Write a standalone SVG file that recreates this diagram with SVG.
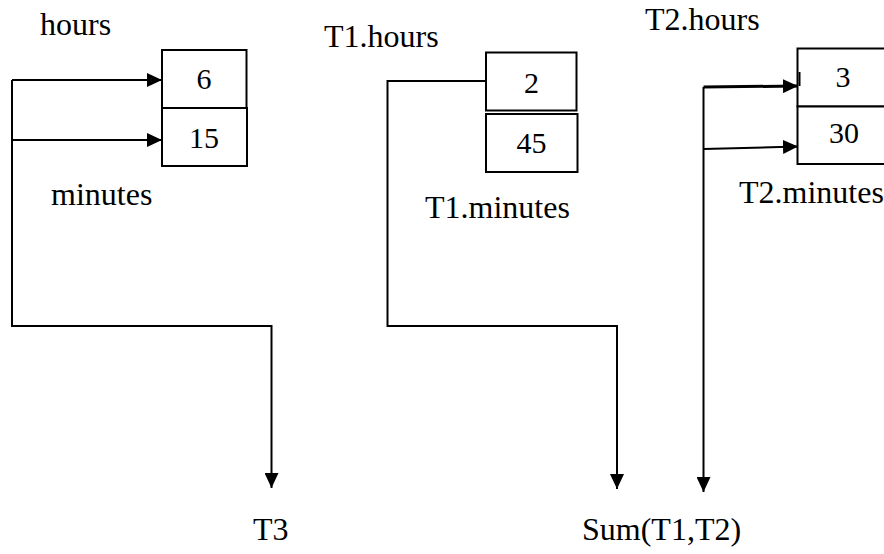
<svg xmlns="http://www.w3.org/2000/svg" width="884" height="554" viewBox="0 0 884 554" font-family="Liberation Serif, Times New Roman, Tinos, DejaVu Serif, serif">
<style>
text{font-family:'Liberation Serif','Times New Roman',Tinos,'DejaVu Serif',serif}
.lbl{font-size:32px;fill:#000}
.num{font-size:30px;fill:#000;text-anchor:middle}
.box{fill:#fff;stroke:#000;stroke-width:2}
.ln{fill:none;stroke:#000;stroke-width:2}
</style>
<defs>
<marker id="ah" markerUnits="userSpaceOnUse" markerWidth="16" markerHeight="14" refX="15" refY="7" orient="auto">
<path d="M0,0 L15,7 L0,14 Z" fill="#000"/>
</marker>
</defs>
<rect width="884" height="554" fill="#fff"/>
<g id="connectors">
<path class="ln" d="M12,80 L12,326 L271.5,326 L271.5,488" marker-end="url(#ah)"/>
<path class="ln" d="M12,80 L162,80" marker-end="url(#ah)"/>
<path class="ln" d="M12,140 L162,140" marker-end="url(#ah)"/>
<path class="ln" d="M486,81 L387.5,81 L387.5,326 L617,326 L617,489" marker-end="url(#ah)"/>
<path class="ln" d="M703.5,87 L703.5,492" marker-end="url(#ah)"/>
<path class="ln" style="stroke-width:3" d="M703.5,87 L798,86" marker-end="url(#ah)"/>
<path class="ln" d="M703.5,149 L798,146.5" marker-end="url(#ah)"/>
</g>
<g id="T3">
<rect class="box" x="162" y="50" width="84.5" height="58"/>
<rect class="box" x="162" y="108" width="85" height="58"/>
<text class="num" x="204" y="89">6</text>
<text class="num" x="204" y="148">15</text>
<text class="lbl" x="40" y="35">hours</text>
<text class="lbl" x="51" y="205">minutes</text>
</g>
<g id="T1">
<rect class="box" x="486" y="52.5" width="90.5" height="58"/>
<rect class="box" x="486" y="114" width="91.5" height="58"/>
<text class="num" x="531.5" y="93">2</text>
<text class="num" x="531.5" y="153">45</text>
<text class="lbl" x="324" y="47">T1.hours</text>
<text class="lbl" x="425" y="218">T1.minutes</text>
</g>
<g id="T2">
<rect class="box" x="797.5" y="48.5" width="95" height="58"/>
<rect class="box" x="797.5" y="106.5" width="95" height="57.5"/>
<path class="ln" d="M799.5,72 L799.5,86"/>
<text class="num" x="843" y="87">3</text>
<text class="num" x="844" y="143">30</text>
<text class="lbl" x="645" y="30">T2.hours</text>
<text class="lbl" x="739" y="203">T2.minutes</text>
</g>
<g id="outputs">
<text class="lbl" x="253" y="540">T3</text>
<text class="lbl" x="582" y="540">Sum(T1,T2)</text>
</g>
</svg>
